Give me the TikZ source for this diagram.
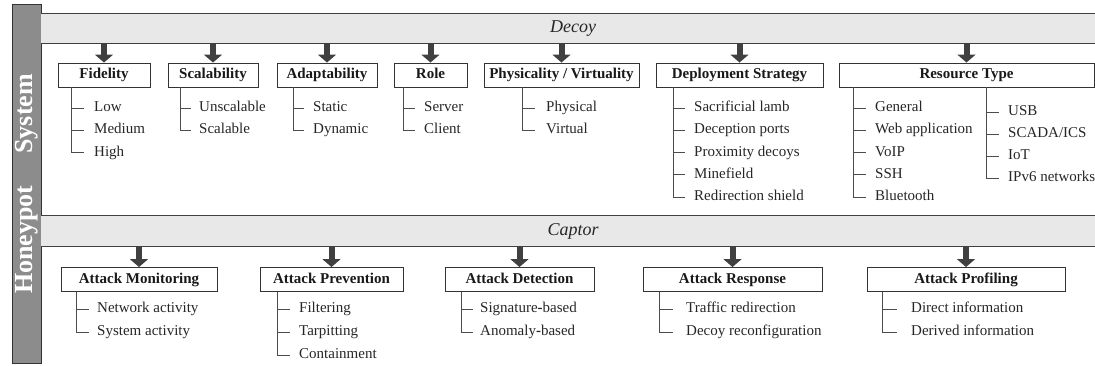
\documentclass[tikz,border=0pt]{standalone}
\usepackage{fontspec}
\setmainfont{Liberation Serif}
\usetikzlibrary{arrows.meta,calc}
\tikzset{
  band/.style={fill=black!9, minimum width=1064pt, inner sep=0pt, text=black!85,
    font=\itshape\fontsize{18}{20}\selectfont},
  bandline/.style={draw=black!75, line width=1pt},
  catbox/.style={draw=black!80, line width=0.9pt, fill=white, minimum height=24pt,
    inner sep=0pt, text height=10.5pt, text depth=3.5pt, text=black!90,
    font=\bfseries\fontsize{15}{16}\selectfont},
  leaf/.style={anchor=west, inner sep=0pt, text height=10pt, text depth=3pt,
    text=black!85, font=\fontsize{15}{16}\selectfont},
  tree/.style={draw=black!70, line width=0.8pt},
  bigarrow/.style={draw=black!75, line width=6pt, -{Triangle[length=8pt,width=18pt]}},
  sidebar/.style={draw=black!80, line width=1pt, fill=black!45, text=white,
    inner sep=0pt, font=\bfseries\fontsize{26}{26}\selectfont}
}
\newcommand\myleaves[5]{%
  \foreach \t [count=\k] in {#5}{\node[leaf] (#1\k) at (#2,{#3+#4*(\k-1)}) {\t};}%
}
\newcommand\mybranch[5]{%
  \coordinate (#2v) at (#3,0);
  \draw[tree] (#2v |- #1.south) -- (#2v |- #2#5);
  \foreach \k in {1,...,#5}{\draw[tree] (#2v |- #2\k) -- ++(#4,0);}%
}
\begin{document}
\begin{tikzpicture}[x=1pt,y=-1pt]
\useasboundingbox (0,0) rectangle (1095,366);

% side bar
\node[sidebar, rotate=90, minimum width=358pt, minimum height=29pt] (hp) at (26.5,184)
  {Honeypot\hspace{32pt}System\hspace{9pt}};

% bands
\node[band, minimum height=29pt] (decoy) at (573,28.5) {Decoy};
\draw[bandline] (decoy.north west) -- (decoy.north east);
\draw[bandline] (decoy.south west) -- (decoy.south east);
\node[band, minimum height=30pt] (captor) at (573,231) {Captor};
\draw[bandline] (captor.north west) -- (captor.north east);
\draw[bandline] (captor.south west) -- (captor.south east);

% top categories
\node[catbox, minimum width=92pt]  (fid) at (104,75)   {Fidelity};
\node[catbox, minimum width=90pt]  (sca) at (213,75)   {Scalability};
\node[catbox, minimum width=100pt] (ada) at (327,75)   {Adaptability};
\node[catbox, minimum width=73pt]  (rol) at (430.5,75) {Role};
\node[catbox, minimum width=155pt] (phy) at (561.5,75) {Physicality / Virtuality};
\node[catbox, minimum width=167pt] (dep) at (739.5,75) {Deployment Strategy};
\node[catbox, minimum width=255pt] (res) at (966.5,75) {Resource Type};

\foreach \b in {fid,sca,ada,rol,phy,dep,res}
  \draw[bigarrow] (decoy.south -| \b.north) -- (\b.north);

\myleaves{fid}{94}{108}{22.3}{Low,Medium,High}
\myleaves{sca}{199}{108}{22.3}{Unscalable,Scalable}
\myleaves{ada}{313}{108}{22.3}{Static,Dynamic}
\myleaves{rol}{424}{108}{22.3}{Server,Client}
\myleaves{phy}{546}{108}{22.3}{Physical,Virtual}
\myleaves{dep}{694}{108}{22.3}{Sacrificial lamb,Deception ports,Proximity decoys,Minefield,Redirection shield}
\myleaves{resL}{875}{108}{22.3}{General,Web application,VoIP,SSH,Bluetooth}
\myleaves{resR}{1008}{112}{22}{USB,SCADA/ICS,IoT,IPv6 networks}

\mybranch{fid}{fid}{71}{13}{3}
\mybranch{sca}{sca}{180}{11}{2}
\mybranch{ada}{ada}{293}{11}{2}
\mybranch{rol}{rol}{403}{12}{2}
\mybranch{phy}{phy}{522}{13}{2}
\mybranch{dep}{dep}{673}{12}{5}
\mybranch{res}{resL}{853}{13}{5}
\mybranch{res}{resR}{986}{13}{4}

% bottom categories
\node[catbox, minimum width=156pt] (mon) at (139,279.5)   {Attack Monitoring};
\node[catbox, minimum width=143pt] (pre) at (331.5,279.5) {Attack Prevention};
\node[catbox, minimum width=149pt] (det) at (519.5,279.5) {Attack Detection};
\node[catbox, minimum width=179pt] (rsp) at (732.5,279.5) {Attack Response};
\node[catbox, minimum width=198pt] (pro) at (966,279.5)   {Attack Profiling};

\foreach \b in {mon,pre,det,rsp,pro}
  \draw[bigarrow] (captor.south -| \b.north) -- (\b.north);

\myleaves{mon}{97}{309}{23}{Network activity,System activity}
\myleaves{pre}{299}{309}{23}{Filtering,Tarpitting,Containment}
\myleaves{det}{480}{309}{23}{Signature\textbf{-}based,Anomaly\textbf{-}based}
\myleaves{rsp}{686}{309}{23}{Traffic redirection,Decoy reconfiguration}
\myleaves{pro}{911}{309}{23}{Direct information,Derived information}

\mybranch{mon}{mon}{76}{13}{2}
\mybranch{pre}{pre}{277}{13}{3}
\mybranch{det}{det}{461}{12}{2}
\mybranch{rsp}{rsp}{659}{14}{2}
\mybranch{pro}{pro}{882}{15}{2}
\end{tikzpicture}
\end{document}
